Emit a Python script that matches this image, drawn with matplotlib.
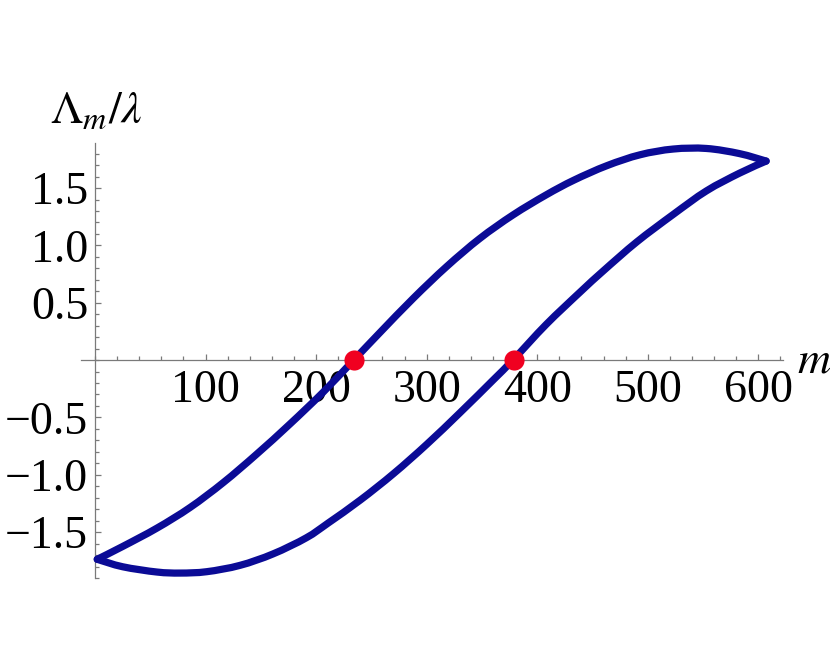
import matplotlib
matplotlib.use("Agg")
import matplotlib.pyplot as plt
from matplotlib.path import Path
from matplotlib.patches import PathPatch
from matplotlib.ticker import MultipleLocator

plt.rcParams['font.family'] = ['Liberation Serif', 'DejaVu Serif']
plt.rcParams['mathtext.fontset'] = 'stix'

# upper branch of the loop
upper_m = [2, 25, 56, 86, 116, 146, 176, 206, 234, 258, 288, 318, 348, 378,
           408, 433, 463, 493, 523, 553, 583, 607]
upper_y = [-1.737, -1.625, -1.465, -1.285, -1.068, -0.822, -0.560, -0.283, 0.0,
           0.243, 0.540, 0.815, 1.060, 1.265, 1.440, 1.568, 1.695, 1.790,
           1.840, 1.845, 1.800, 1.735]

# lower branch
lower_m = [2, 25, 56, 77, 101, 131, 161, 191, 211, 240, 270, 300, 330, 360,
           378, 408, 439, 460, 490, 523, 553, 583, 607]
lower_y = [-1.737, -1.802, -1.848, -1.857, -1.845, -1.790, -1.690, -1.550,
           -1.420, -1.220, -0.990, -0.735, -0.460, -0.175, 0.0, 0.310, 0.595,
           0.780, 1.030, 1.270, 1.475, 1.630, 1.735]

# zero crossings
root_m = [234, 379]
root_y = [0, 0]

xticks = [100, 200, 300, 400, 500, 600]
xlabels = ['100', '200', '300', '400', '500', '600']
yticks = [-1.5, -1.0, -0.5, 0.5, 1.0, 1.5]
ylabels = ['\u22121.5', '\u22121.0', '\u22120.5', '0.5', '1.0', '1.5']

navy = '#0b0b96'
grey = '#7a7a7a'


def smooth_path(xs, ys):
    # Catmull-Rom through the points, handed to matplotlib as cubic Beziers
    pts = list(zip(xs, ys))
    verts = [pts[0]]
    codes = [Path.MOVETO]
    n = len(pts)
    for i in range(n - 1):
        p0 = pts[max(i - 1, 0)]
        p1 = pts[i]
        p2 = pts[i + 1]
        p3 = pts[min(i + 2, n - 1)]
        c1 = (p1[0] + (p2[0] - p0[0]) / 6, p1[1] + (p2[1] - p0[1]) / 6)
        c2 = (p2[0] - (p3[0] - p1[0]) / 6, p2[1] - (p3[1] - p1[1]) / 6)
        verts += [c1, c2, p2]
        codes += [Path.CURVE4] * 3
    return Path(verts, codes)


fig = plt.figure(figsize=(8.3, 6.65), dpi=100)
ax = fig.add_axes([81 / 830, 1 - 578 / 665, (782.7 - 81) / 830, (578 - 143.3) / 665])

for xs, ys in ((upper_m, upper_y), (lower_m, lower_y)):
    patch = PathPatch(smooth_path(xs, ys), facecolor='none', edgecolor=navy,
                      lw=5.2, capstyle='round', joinstyle='round', zorder=3)
    ax.add_patch(patch)
ax.plot(root_m, root_y, 'o', color='#f00020', ms=14.5, mec='none', zorder=4)

ax.set_xlim(-12.7, 622)
ax.set_ylim(-1.90, 1.89)

ax.spines['left'].set_position(('data', 0))
ax.spines['bottom'].set_position(('data', 0))
ax.spines['top'].set_visible(False)
ax.spines['right'].set_visible(False)
for s in ('left', 'bottom'):
    ax.spines[s].set_color(grey)
    ax.spines[s].set_linewidth(0.9)

ax.set_xticks(xticks)
ax.set_xticklabels(xlabels)
ax.set_yticks(yticks)
ax.set_yticklabels(ylabels)
ax.xaxis.set_minor_locator(MultipleLocator(20))
ax.yaxis.set_minor_locator(MultipleLocator(0.1))

ax.tick_params(which='both', direction='in', color=grey, width=0.9,
               labelsize=33, labelcolor='black')
ax.tick_params(which='major', length=4.5)
ax.tick_params(which='minor', length=2.6)
ax.tick_params(axis='x', which='major', pad=7)
ax.tick_params(axis='y', which='major', pad=5)

ax.text(635, -0.105, r'$m$', fontsize=33, ha='left', va='baseline', clip_on=False)
ax.text(-40.9, 2.068, r'$\Lambda_m/\lambda$', fontsize=33, ha='left',
        va='baseline', clip_on=False)

fig.savefig('out.png', dpi=100)
